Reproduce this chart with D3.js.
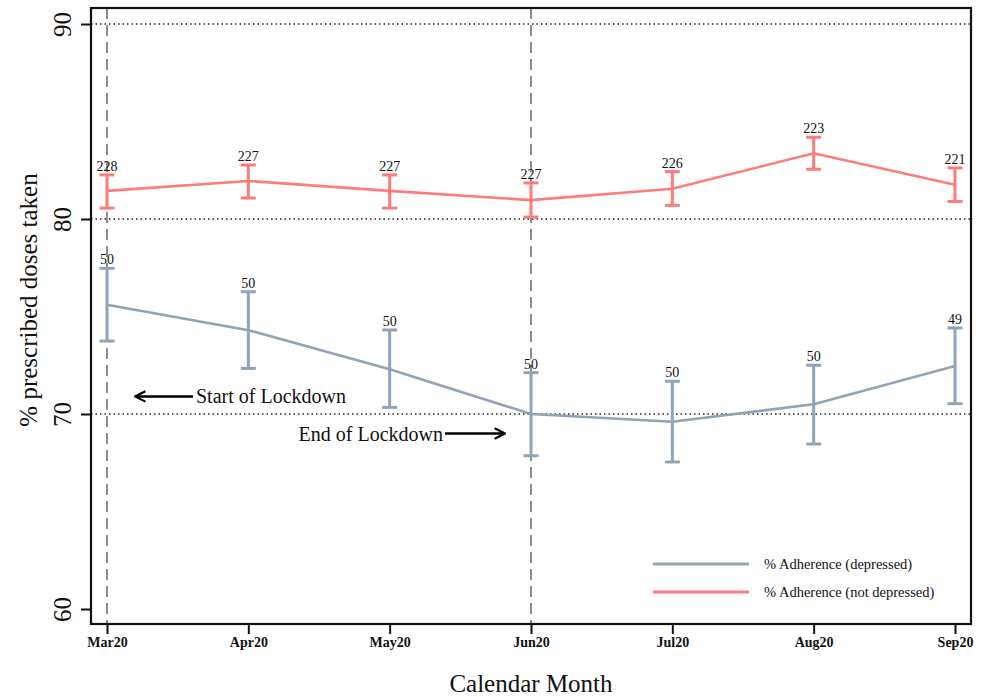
<!DOCTYPE html>
<html>
<head>
<meta charset="utf-8">
<script src="https://cdn.jsdelivr.net/npm/d3@7"></script>
<style>
  html, body { margin: 0; padding: 0; background: #fff; }
  svg { display: block; font-family: "Liberation Serif", "Times New Roman", serif; }
</style>
</head>
<body>
<svg id="chart" width="987" height="697"></svg>
<script>
const months = ["Mar20", "Apr20", "May20", "Jun20", "Jul20", "Aug20", "Sep20"];

const depMean = [75.6, 74.3, 72.3, 70.0, 69.6, 70.5, 72.46];
const depLow  = [73.74, 72.34, 70.34, 67.86, 67.54, 68.46, 70.53];
const depHigh = [77.47, 76.27, 74.31, 72.12, 71.68, 72.5, 74.41];
const depN    = [50, 50, 50, 50, 50, 50, 49];

const notMean = [81.44, 81.95, 81.44, 80.97, 81.55, 83.37, 81.76];
const notLow  = [80.56, 81.08, 80.56, 80.1, 80.7, 82.55, 80.9];
const notHigh = [82.26, 82.77, 82.26, 81.85, 82.43, 84.19, 82.62];
const notN    = [228, 227, 227, 227, 226, 223, 221];

const yTicks = [60, 70, 80, 90];
const refLines = [70, 80, 90];
const lockdownMonths = ["Mar20", "Jun20"];
const seriesLabels = ["% Adherence (depressed)", "% Adherence (not depressed)"];

const BLUE = "#8FA3B9";
const RED = "#FF7B7B";

const svg = d3.select("#chart");
const frame = { left: 91, right: 971, top: 8, bottom: 624 };

const x = d3.scalePoint().domain(months).range([107, 955]);
const y = d3.scaleLinear().domain([60, 90]).range([609, 24]);

// reference horizontal dotted lines
svg.append("g").selectAll("line").data(refLines).join("line")
  .attr("x1", frame.left).attr("x2", frame.right)
  .attr("y1", d => y(d)).attr("y2", d => y(d))
  .attr("stroke", "#222").attr("stroke-width", 1.5)
  .attr("stroke-dasharray", "1.5,3");

// vertical dashed lockdown lines
svg.append("g").selectAll("line").data(lockdownMonths).join("line")
  .attr("x1", d => x(d)).attr("x2", d => x(d))
  .attr("y1", frame.top).attr("y2", frame.bottom)
  .attr("stroke", "#444").attr("stroke-width", 1.2)
  .attr("stroke-dasharray", "11,6");

function drawSeries(mean, low, high, ns, color) {
  const pts = months.map((m, i) => ({ m, mean: mean[i], low: low[i], high: high[i], n: ns[i] }));
  const g = svg.append("g");
  g.append("path").datum(pts)
    .attr("fill", "none").attr("stroke", color).attr("stroke-width", 2.6)
    .attr("d", d3.line().x(d => x(d.m)).y(d => y(d.mean)));
  const cap = 7.5;
  const eb = g.selectAll("g.eb").data(pts).join("g");
  eb.append("line")
    .attr("x1", d => x(d.m)).attr("x2", d => x(d.m))
    .attr("y1", d => y(d.low)).attr("y2", d => y(d.high))
    .attr("stroke", color).attr("stroke-width", 3);
  eb.append("line")
    .attr("x1", d => x(d.m) - cap).attr("x2", d => x(d.m) + cap)
    .attr("y1", d => y(d.high)).attr("y2", d => y(d.high))
    .attr("stroke", color).attr("stroke-width", 3);
  eb.append("line")
    .attr("x1", d => x(d.m) - cap).attr("x2", d => x(d.m) + cap)
    .attr("y1", d => y(d.low)).attr("y2", d => y(d.low))
    .attr("stroke", color).attr("stroke-width", 3);
  eb.append("text")
    .attr("x", d => x(d.m)).attr("y", d => y(d.high) - 4)
    .attr("text-anchor", "middle").attr("font-size", 14).attr("fill", "#111")
    .text(d => d.n);
}
drawSeries(notMean, notLow, notHigh, notN, RED);
drawSeries(depMean, depLow, depHigh, depN, BLUE);

// frame
svg.append("rect")
  .attr("x", frame.left).attr("y", frame.top)
  .attr("width", frame.right - frame.left).attr("height", frame.bottom - frame.top)
  .attr("fill", "none").attr("stroke", "#111").attr("stroke-width", 2.2);

// y axis
const yAxis = svg.append("g").attr("transform", `translate(${frame.left},0)`)
  .call(d3.axisLeft(y).tickValues(yTicks).tickSize(10).tickFormat(d3.format("d")));
yAxis.select(".domain").remove();
yAxis.selectAll(".tick line").attr("stroke", "#111").attr("stroke-width", 2);
yAxis.selectAll(".tick text")
  .attr("font-family", "Liberation Serif, serif").attr("font-size", 25).attr("fill", "#111")
  .attr("x", 0).attr("dy", 0)
  .attr("text-anchor", "middle")
  .attr("transform", "translate(-20,0) rotate(-90)");

// x axis
const xAxis = svg.append("g").attr("transform", `translate(0,${frame.bottom})`)
  .call(d3.axisBottom(x).tickSize(10));
xAxis.select(".domain").remove();
xAxis.selectAll(".tick line").attr("stroke", "#111").attr("stroke-width", 2);
xAxis.selectAll(".tick text")
  .attr("font-family", "Liberation Serif, serif").attr("font-size", 14).attr("fill", "#111")
  .attr("y", 23).attr("dy", 0).attr("font-weight", "bold");

// axis titles
svg.append("text")
  .attr("transform", `translate(37,300) rotate(-90)`)
  .attr("text-anchor", "middle").attr("font-size", 25).attr("fill", "#111")
  .text("% prescribed doses taken");
svg.append("text")
  .attr("x", (frame.left + frame.right) / 2).attr("y", 692)
  .attr("text-anchor", "middle").attr("font-size", 25).attr("fill", "#111")
  .text("Calendar Month");

// annotations
const defs = svg.append("defs");
defs.append("marker").attr("id", "arrow")
  .attr("viewBox", "0 0 10 10").attr("refX", 9).attr("refY", 5)
  .attr("markerWidth", 5).attr("markerHeight", 5).attr("orient", "auto")
  .append("path").attr("d", "M1,1 L9,5 L1,9").attr("fill", "none")
  .attr("stroke", "#000").attr("stroke-width", 1.6);

const x0 = x("Mar20"), x3 = x("Jun20");
const yStart = y(70.9), yEnd = y(69.0);
svg.append("line")
  .attr("x1", x0 + 86).attr("x2", x0 + 28).attr("y1", yStart).attr("y2", yStart)
  .attr("stroke", "#000").attr("stroke-width", 2.6).attr("marker-end", "url(#arrow)");
svg.append("text").attr("x", x0 + 89).attr("y", yStart + 7)
  .attr("font-size", 20).attr("fill", "#111").text("Start of Lockdown");
svg.append("line")
  .attr("x1", x3 - 86).attr("x2", x3 - 26).attr("y1", yEnd).attr("y2", yEnd)
  .attr("stroke", "#000").attr("stroke-width", 2.6).attr("marker-end", "url(#arrow)");
svg.append("text").attr("x", x3 - 88).attr("y", yEnd + 7)
  .attr("text-anchor", "end")
  .attr("font-size", 20).attr("fill", "#111").text("End of Lockdown");

// legend
const legColors = [BLUE, RED];
const leg = svg.append("g").selectAll("g").data(seriesLabels).join("g")
  .attr("transform", (d, i) => `translate(653,${564 + i * 28})`);
leg.append("line").attr("x1", 0).attr("x2", 96).attr("y1", 0).attr("y2", 0)
  .attr("stroke", (d, i) => legColors[i]).attr("stroke-width", 3);
leg.append("text").attr("x", 111).attr("y", 5)
  .attr("font-size", 14.5).attr("fill", "#111").text(d => d);
</script>
</body>
</html>
